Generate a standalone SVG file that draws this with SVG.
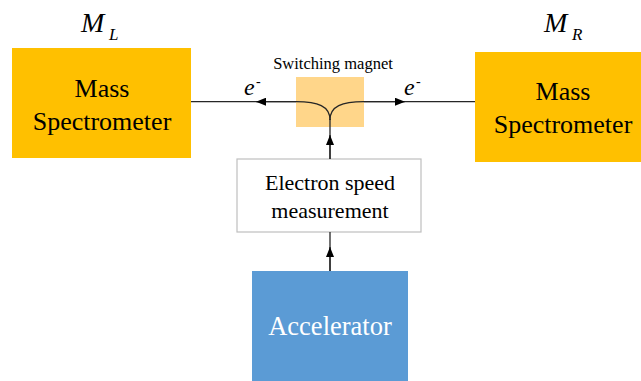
<svg xmlns="http://www.w3.org/2000/svg" width="641" height="381" viewBox="0 0 641 381">
<style>
.t{font-family:"Liberation Serif","Times New Roman",serif;fill:#000}
.ms{fill:#FFC000}
.ln{fill:none;stroke:#262626;stroke-width:1.3}
</style>
<defs>
<marker id="ah" viewBox="0 0 10 8" refX="10" refY="4" markerWidth="10" markerHeight="8" markerUnits="userSpaceOnUse" orient="auto">
<path d="M0,0 L10,4 L0,8 Z" fill="#000"/>
</marker>
</defs>
<rect width="641" height="381" fill="#fff"/>
<g id="ms-left">
<rect class="ms" x="12" y="48" width="179" height="110"/>
<text class="t" x="102" y="97" font-size="26" text-anchor="middle">Mass</text>
<text class="t" x="102" y="130" font-size="26" text-anchor="middle">Spectrometer</text>
</g>
<g id="label-ml">
<text class="t" x="81" y="32" font-size="28" font-style="italic">M</text>
<text class="t" x="109" y="40" font-size="17" font-style="italic">L</text>
</g>
<g id="ms-right">
<rect class="ms" x="475" y="52" width="166" height="110"/>
<text class="t" x="563" y="100" font-size="26" text-anchor="middle">Mass</text>
<text class="t" x="563" y="133" font-size="26" text-anchor="middle">Spectrometer</text>
</g>
<g id="label-mr">
<text class="t" x="544" y="32" font-size="28" font-style="italic">M</text>
<text class="t" x="572" y="40" font-size="17" font-style="italic">R</text>
</g>
<g id="magnet">
<rect x="296" y="77" width="68" height="50" fill="#FFD68A"/>
<text class="t" x="333" y="69" font-size="16.5" text-anchor="middle">Switching magnet</text>
</g>
<g id="speed">
<rect x="237" y="159" width="184" height="73" fill="#fff" stroke="#BFBFBF" stroke-width="1.2"/>
<text class="t" x="330" y="190" font-size="22" text-anchor="middle">Electron speed</text>
<text class="t" x="330" y="218" font-size="22" text-anchor="middle">measurement</text>
</g>
<g id="accelerator">
<rect x="252" y="271" width="156" height="112" fill="#5B9BD5"/>
<text x="330" y="335" font-size="26.5" text-anchor="middle" font-family="'Liberation Serif','Times New Roman',serif" fill="#fff">Accelerator</text>
</g>
<g id="labels-e">
<text class="t" x="244" y="95" font-size="24" font-style="italic">e</text>
<text class="t" x="256" y="86" font-size="14">-</text>
<text class="t" x="404" y="95" font-size="24" font-style="italic">e</text>
<text class="t" x="416" y="86" font-size="14">-</text>
</g>
<g id="connectors">
<path class="ln" d="M330,271 L330,232"/>
<path class="ln" d="M330,271 L330,247" marker-end="url(#ah)"/>
<path class="ln" d="M330,159 L330,119"/>
<path class="ln" d="M330,159 L330,135" marker-end="url(#ah)"/>
<path class="ln" d="M330,120 C330,106 318,101.7 296,101.7 L191,101.7"/>
<path class="ln" d="M296,101.7 L256,101.7" marker-end="url(#ah)"/>
<path class="ln" d="M330,120 C330,106 342,101.7 364,101.7 L475,101.7"/>
<path class="ln" d="M364,101.7 L405,101.7" marker-end="url(#ah)"/>
</g>
</svg>
